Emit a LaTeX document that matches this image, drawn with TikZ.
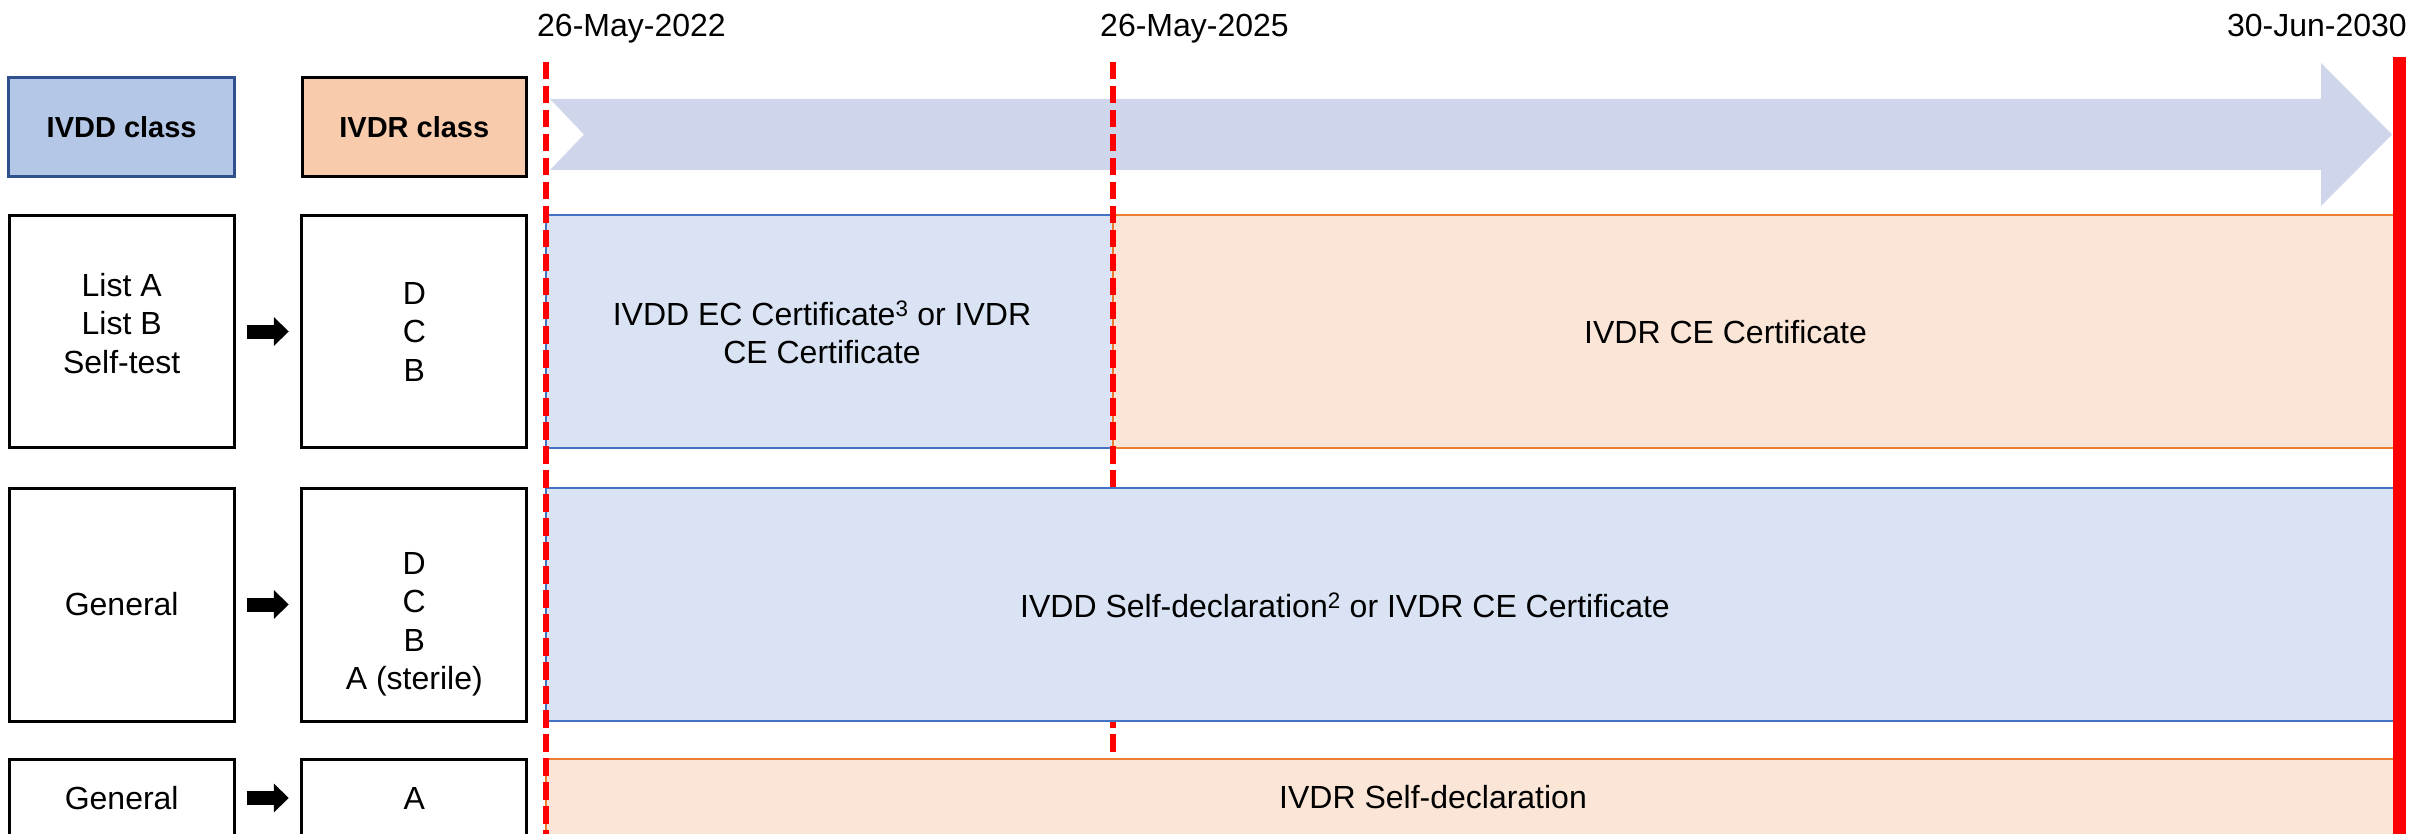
\documentclass[tikz,border=0pt]{standalone}
\usepackage{fontspec}
\setmainfont{Liberation Sans}
\usetikzlibrary{arrows.meta}
\definecolor{ivddfill}{HTML}{B4C7E7}
\definecolor{ivddline}{HTML}{2F528F}
\definecolor{ivdrfill}{HTML}{F8CBAD}
\definecolor{regbluefill}{HTML}{DAE3F3}
\definecolor{regblueline}{HTML}{4472C4}
\definecolor{regorfill}{HTML}{FBE5D6}
\definecolor{regorline}{HTML}{ED7D31}
\definecolor{timearrow}{HTML}{CFD5EA}
\definecolor{deadline}{HTML}{FF0000}
\begin{document}
\begin{tikzpicture}[x=1pt,y=-1pt,
  txt/.style={font=\fontsize{32}{38.5}\selectfont, inner sep=0pt},
  classbox/.style={line width=3pt, inner sep=0pt, minimum height=99pt, font=\bfseries\fontsize{29}{35}\selectfont},
  rowbox/.style={draw=black, line width=3pt, fill=white, inner sep=0pt, minimum width=225pt, align=center, txt},
  regblue/.style={draw=regblueline, fill=regbluefill, line width=2pt, inner sep=0pt},
  regor/.style={draw=regorline, fill=regorfill, line width=2pt, inner sep=0pt},
  fatarrow/.style={line width=14pt, -{Triangle[length=15pt,width=28pt]}, shorten <=11pt, shorten >=11.5pt},
  dashline/.style={draw=deadline, line width=6pt, dash pattern=on 17.5pt off 6.5pt},
  dateline/.style={draw=deadline, line width=13pt}]
\useasboundingbox (0,0) rectangle (2412,834);
\clip (0,0) rectangle (2412,834);

% header boxes
\node[classbox, draw=ivddline, fill=ivddfill, minimum width=226pt] (ivdd) at (121.7,127) {IVDD class};
\node[classbox, draw=black, fill=ivdrfill, minimum width=224.5pt] (ivdr) at (414.3,127) {IVDR class};

% class boxes
\node[rowbox, minimum height=232pt] (old1) at (121.7,331.5) {};
\node[txt, align=center] (old1t) at (121.7,323.5) {List A\\List B\\Self-test};
\node[rowbox, minimum height=232pt] (new1) at (414.3,331.5) {D\\C\\B};
\node[rowbox, minimum height=233pt] (old2) at (121.7,604.5) {General};
\node[rowbox, minimum height=233pt] (new2) at (414.3,604.5) {};
\node[txt, align=center] (new2t) at (414.3,624.2) {D\\C\\B\\A (sterile)};
\node[rowbox, minimum height=77pt] (old3) at (121.7,798) {General};
\node[rowbox, minimum height=77pt] (new3) at (414.3,798) {A};

\draw[fatarrow] (old1) -- (new1);
\draw[fatarrow] (old2) -- (new2);
\draw[fatarrow] (old3) -- (new3);

% row 1 regions
\node[regblue, minimum width=567pt, minimum height=233pt] (reg1a) at (829.5,331.5) {};
\node[regor, minimum width=1287pt, minimum height=233pt] (reg1b) at (1756.5,331.5) {};
\node[txt, align=center, font=\fontsize{32}{37.7}\selectfont] (reg1at) at (822,332.2) {IVDD EC Certificate\textsuperscript{3} or IVDR\\CE Certificate};
\node[txt, anchor=base west] (reg1bt) at (1584,343.5) {IVDR CE Certificate};

% timeline arrow
\fill[timearrow] (550,99) -- (2321,99) -- (2321,63) -- (2392,134.5) -- (2321,206) -- (2321,170) -- (550,170) -- (584,134.5) -- cycle;

\draw[dashline] (1113,62) -- (1113,759);

% row 2 and 3 regions
\node[regblue, minimum width=1854pt, minimum height=233pt] (reg2) at (1473,604.5) {};
\node[txt, anchor=base west] (reg2t) at (1020,617.3) {IVDD Self-declaration\textsuperscript{2} or IVDR CE Certificate};
\node[regor, minimum width=1854pt, minimum height=100pt] (reg3) at (1473,809) {};
\node[txt, anchor=base west] (reg3t) at (1279,808.3) {IVDR Self-declaration};

\draw[dashline] (546,62) -- (546,834);
\draw[dateline] (2399.5,57) -- (2399.5,834);

% dates
\node[txt, anchor=base west] (d1) at (537,37) {26-May-2022};
\node[txt, anchor=base west] (d2) at (1100,37) {26-May-2025};
\node[txt, anchor=base east] (d3) at (2407,37) {30-Jun-2030};
\end{tikzpicture}
\end{document}
